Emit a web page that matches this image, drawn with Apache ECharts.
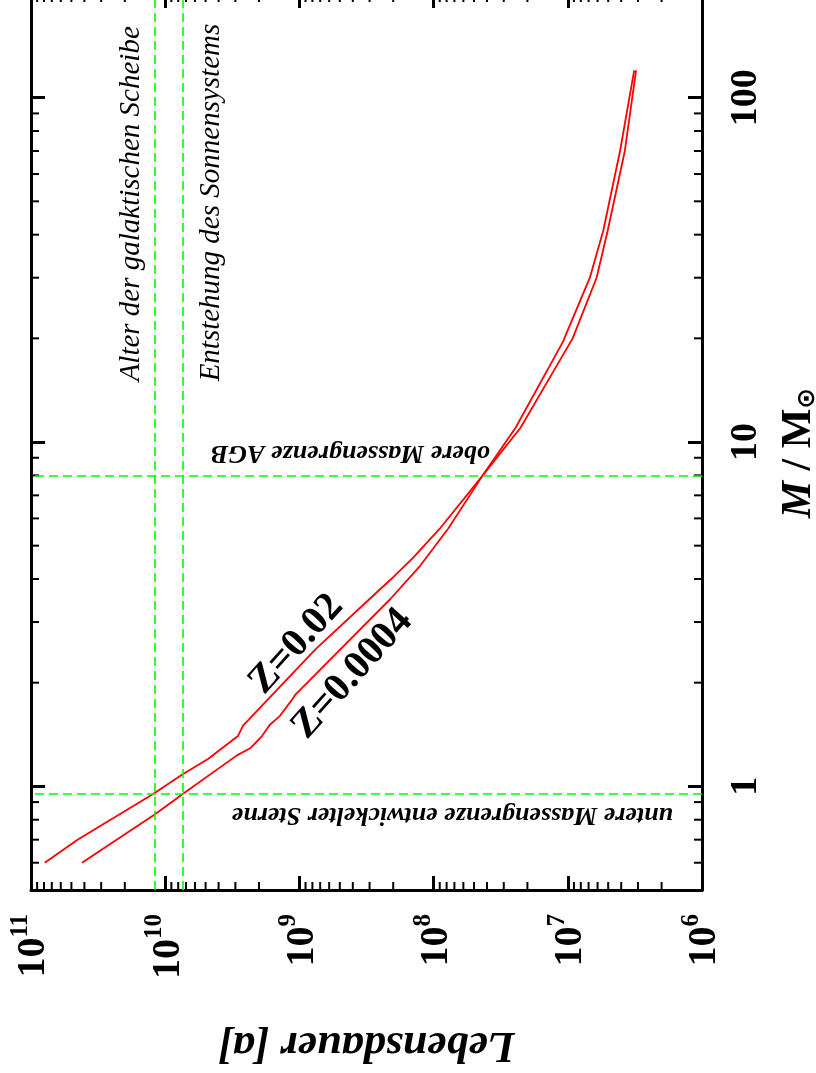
<!DOCTYPE html>
<html>
<head>
<meta charset="utf-8">
<script src="https://cdn.jsdelivr.net/npm/echarts@6/dist/echarts.min.js"></script>
<style>
  html, body { margin: 0; padding: 0; background: #fff; }
  #chart { width: 816px; height: 1073px; }
</style>
</head>
<body>
<div id="chart"></div>
<script>
// Stellar lifetime [a] versus initial mass [M_sun] for two metallicities
const massZ002 = [0.6, 0.7, 0.95, 1.08, 1.2, 1.4, 1.5, 2.5, 3.5, 4.0, 4.6, 5.6, 8.0, 11, 20, 30, 41, 70, 120];
const lifeZ002 = [7.9e10, 4.5e10, 1.23e10, 7.5e9, 4.8e9, 2.87e9, 2.63e9, 7.6e8, 3.0e8, 2.07e8, 1.43e8, 9.0e7, 4.3e7, 2.25e7, 9.2e6, 6.1e6, 5.05e6, 3.76e6, 3.1e6];

const massZ00004 = [0.6, 0.83, 0.95, 1.23, 1.29, 1.4, 1.51, 1.6, 1.78, 1.84, 3.5, 4.37, 5.6, 8.0, 11, 19.5, 30, 41, 70, 120];
const lifeZ00004 = [4.17e10, 1.19e10, 7.4e9, 2.92e9, 2.33e9, 1.9e9, 1.66e9, 1.4e9, 1.14e9, 1.08e9, 2.1e8, 1.26e8, 7.8e7, 4.3e7, 2.45e7, 1.09e7, 6.85e6, 5.45e6, 4.08e6, 3.2e6];

// reference lines: ages [a] and mass limits [M_sun]
const ageDisk = 1.2e10;        // Alter der galaktischen Scheibe
const ageSolarForm = 7.4e9;    // Entstehung des Sonnensystems
const massUpperAGB = 8;        // obere Massengrenze AGB
const massLowerEvolved = 0.95; // untere Massengrenze entwickelter Sterne

// axis ranges and tick positions
const lifeRange = [1e6, 1e11];
const massRange = [0.5, 200];
const lifeDecades = [1e6, 1e7, 1e8, 1e9, 1e10];
const massDecades = [0.1, 1, 10];
const minorSteps = [2, 3, 4, 5, 6, 7, 8, 9];

const SERIF = '"Liberation Serif", "Times New Roman", serif';

function zip(xs, ys) { return xs.map((x, i) => [x, ys[i]]); }

const minorTicks = [];
lifeDecades.forEach(d => minorSteps.forEach(k => minorTicks.push([k * d, 1, 0])));
massDecades.forEach(d => minorSteps.forEach(k => {
  const v = k * d;
  if (v > massRange[0] && v < massRange[1]) minorTicks.push([1e8, v, 1]);
}));

function isPow10(v) {
  const l = Math.log10(v);
  return Math.abs(l - Math.round(l)) < 1e-6;
}

const frame = { lineStyle: { color: '#000', width: 3 } };
const majorTick = { inside: true, length: 14, lineStyle: { color: '#000', width: 3 } };

const chart = echarts.init(document.getElementById('chart'), null, { renderer: 'canvas' });

const option = {
  animation: false,
  backgroundColor: '#fff',
  grid: { left: 31, right: 114, top: -6, bottom: 183, outerBoundsMode: 'none' },
  xAxis: [
    {
      type: 'log', position: 'bottom', inverse: true,
      min: lifeRange[0], max: lifeRange[1],
      axisLine: frame, axisTick: majorTick, splitLine: { show: false },
      axisLabel: {
        rotate: 90, margin: 24, showMinLabel: true, showMaxLabel: true,
        formatter: v => isPow10(v) ? '{b|10}{s|' + Math.round(Math.log10(v)) + '}' : '',
        rich: {
          b: { fontFamily: SERIF, fontWeight: 'bold', fontSize: 40, lineHeight: 46, verticalAlign: 'bottom', color: '#000' },
          s: { fontFamily: SERIF, fontWeight: 'bold', fontSize: 25, lineHeight: 25, verticalAlign: 'top', color: '#000' }
        }
      },
      name: 'Lebensdauer [a]', nameLocation: 'middle', nameGap: 132, nameRotate: 180,
      nameTextStyle: { fontFamily: SERIF, fontWeight: 'bold', fontStyle: 'italic', fontSize: 44, color: '#000' }
    },
    {
      type: 'log', position: 'top', inverse: true,
      min: lifeRange[0], max: lifeRange[1],
      axisLine: frame, axisTick: majorTick, splitLine: { show: false },
      axisLabel: { show: false }
    }
  ],
  yAxis: [
    {
      type: 'log', position: 'right',
      min: massRange[0], max: massRange[1],
      axisLine: frame, axisTick: majorTick, splitLine: { show: false },
      axisLabel: {
        rotate: 90, margin: 25,
        formatter: v => isPow10(v) ? String(Math.round(v)) : '',
        fontFamily: SERIF, fontWeight: 'bold', fontSize: 38, color: '#000'
      },
      name: '{i|M}{r| / M}{o|⊙}', nameLocation: 'middle', nameGap: 72, nameRotate: 90,
      nameTextStyle: {
        padding: [0, 22, 0, 0],
        rich: {
          i: { fontFamily: SERIF, fontWeight: 'bold', fontStyle: 'italic', fontSize: 42, lineHeight: 46, verticalAlign: 'bottom', color: '#000' },
          r: { fontFamily: SERIF, fontWeight: 'bold', fontSize: 42, lineHeight: 46, verticalAlign: 'bottom', color: '#000' },
          o: { fontFamily: '"DejaVu Sans", sans-serif', fontWeight: 'bold', fontSize: 25, lineHeight: 25, verticalAlign: 'bottom', color: '#000' }
        }
      }
    },
    {
      type: 'log', position: 'left',
      min: massRange[0], max: massRange[1],
      axisLine: frame, axisTick: majorTick, splitLine: { show: false },
      axisLabel: { show: false }
    }
  ],
  series: [
    {
      name: 'Z=0.02', type: 'line', xAxisIndex: 0, yAxisIndex: 0,
      data: zip(lifeZ002, massZ002),
      showSymbol: false, symbol: 'none', smooth: false,
      lineStyle: { color: '#ff0000', width: 1.8 },
      markLine: {
        silent: true, symbol: ['none', 'none'], label: { show: false },
        lineStyle: { color: '#00ff00', width: 1.6, type: [9, 5] },
        data: [
          { xAxis: ageDisk }, { xAxis: ageSolarForm },
          { yAxis: massUpperAGB }, { yAxis: massLowerEvolved }
        ]
      },
      z: 3
    },
    {
      name: 'Z=0.0004', type: 'line', xAxisIndex: 0, yAxisIndex: 0,
      data: zip(lifeZ00004, massZ00004),
      showSymbol: false, symbol: 'none', smooth: false,
      lineStyle: { color: '#ff0000', width: 1.8 },
      z: 3
    },
    {
      // log-spaced minor ticks on all four frame sides
      type: 'custom', xAxisIndex: 0, yAxisIndex: 0, silent: true, clip: false,
      encode: { x: 0, y: 1 },
      data: minorTicks,
      renderItem: (params, api) => {
        const cs = params.coordSys;
        const p = api.coord([api.value(0), api.value(1)]);
        const st = { stroke: '#000', lineWidth: 2 };
        const len = 8;
        if (api.value(2) === 0) {
          const yb = cs.y + cs.height, yt = cs.y;
          return { type: 'group', children: [
            { type: 'line', shape: { x1: p[0], y1: yb, x2: p[0], y2: yb - len }, style: st },
            { type: 'line', shape: { x1: p[0], y1: yt, x2: p[0], y2: yt + len }, style: st }
          ] };
        }
        const xl = cs.x, xr = cs.x + cs.width;
        return { type: 'group', children: [
          { type: 'line', shape: { x1: xl, y1: p[1], x2: xl + len, y2: p[1] }, style: st },
          { type: 'line', shape: { x1: xr, y1: p[1], x2: xr - len, y2: p[1] }, style: st }
        ] };
      },
      z: 4
    }
  ]
};

chart.setOption(option);

// annotations placed relative to data positions
const px = (t, m) => chart.convertToPixel({ xAxisIndex: 0, yAxisIndex: 0 }, [t, m]);
const pDisk = px(ageDisk, 15);
const pSolar = px(ageSolarForm, 15);
const pAGB = px(4.3e7, massUpperAGB);
const pLow = px(lifeRange[0], massLowerEvolved);
const pZ1 = px(7.6e8, 2.5);
const pZ2 = px(2.1e8, 3.5);

function txt(x, y, rot, text, font, align) {
  return {
    type: 'text', x: x, y: y, rotation: rot, silent: true, z: 10,
    style: { text: text, font: font, fill: '#000', align: align, verticalAlign: 'middle' }
  };
}

chart.setOption({
  graphic: [
    txt(pDisk[0] - 23, pDisk[1], Math.PI / 2, 'Alter der galaktischen Scheibe', 'italic 29px ' + SERIF, 'left'),
    txt(pSolar[0] + 29, pSolar[1], Math.PI / 2, 'Entstehung des Sonnensystems', 'italic 29px ' + SERIF, 'left'),
    txt(pAGB[0] + 7, pAGB[1] - 23, Math.PI, 'obere Massengrenze AGB', 'italic bold 26px ' + SERIF, 'left'),
    txt(pLow[0] - 29, pLow[1] + 21, Math.PI, 'untere Massengrenze entwickelter Sterne', 'italic bold 26px ' + SERIF, 'left'),
    txt(pZ1[0] - 19, pZ1[1] - 5, 48 * Math.PI / 180, 'Z=0.02', 'bold 40px ' + SERIF, 'center'),
    txt(pZ2[0] - 38, pZ2[1] + 75, 48 * Math.PI / 180, 'Z=0.0004', 'bold 40px ' + SERIF, 'center')
  ]
});
</script>
</body>
</html>
